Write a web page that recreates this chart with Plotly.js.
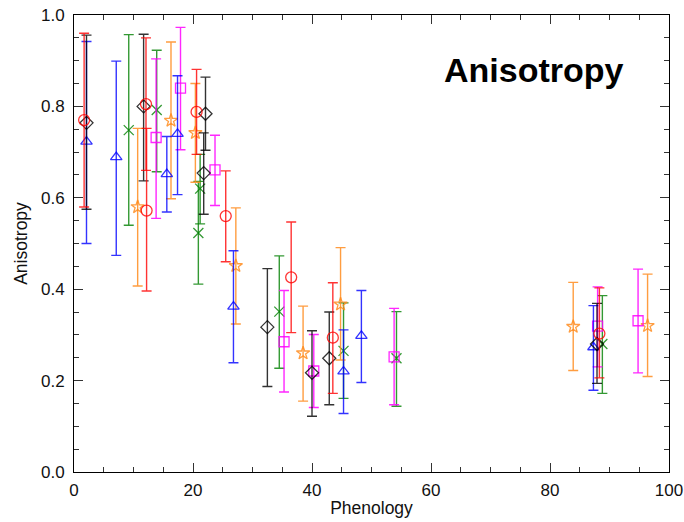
<!DOCTYPE html>
<html>
<head>
<meta charset="utf-8">
<script src="https://cdn.plot.ly/plotly-3.0.1.min.js"></script>
<style>html,body{margin:0;padding:0;background:#fff;}#chart{width:684px;height:522px;}</style>
</head>
<body>
<div id="chart"></div>
<script>
// Data: x = phenology, y = anisotropy, hi/lo = error bar ends
const redX = [1.7, 12.1, 12.2, 20.6, 25.5, 36.5, 43.5, 88.3];
const redY = [0.770, 0.805, 0.572, 0.788, 0.560, 0.426, 0.294, 0.303];
const redHi = [0.960, 0.950, 0.752, 0.881, 0.659, 0.547, 0.414, 0.403];
const redLo = [0.580, 0.660, 0.396, 0.695, 0.460, 0.305, 0.172, 0.206];

const blackX = [2.1, 11.7, 22.1, 21.8, 32.5, 40.0, 42.9, 87.9];
const blackY = [0.764, 0.800, 0.784, 0.654, 0.317, 0.217, 0.249, 0.280];
const blackHi = [0.956, 0.958, 0.864, 0.742, 0.445, 0.309, 0.350, 0.369];
const blackLo = [0.575, 0.637, 0.704, 0.564, 0.187, 0.122, 0.147, 0.194];

const blueX = [2.1, 7.1, 15.6, 17.4, 26.8, 45.3, 48.3, 87.3];
const blueY = [0.723, 0.689, 0.652, 0.740, 0.362, 0.220, 0.298, 0.273];
const blueHi = [0.942, 0.899, 0.734, 0.867, 0.484, 0.311, 0.397, 0.364];
const blueLo = [0.500, 0.474, 0.569, 0.607, 0.239, 0.128, 0.196, 0.179];

const greenX = [9.2, 13.9, 21.2, 20.9, 34.5, 45.3, 54.2, 88.8];
const greenY = [0.748, 0.792, 0.620, 0.523, 0.351, 0.265, 0.249, 0.280];
const greenHi = [0.957, 0.923, 0.695, 0.636, 0.473, 0.370, 0.351, 0.386];
const greenLo = [0.540, 0.657, 0.543, 0.411, 0.227, 0.161, 0.144, 0.172];

const orangeX = [10.7, 16.3, 20.4, 27.2, 38.5, 44.8, 83.9, 96.4];
const orangeY = [0.580, 0.769, 0.742, 0.451, 0.260, 0.367, 0.318, 0.320];
const orangeHi = [0.752, 0.941, 0.850, 0.578, 0.363, 0.491, 0.415, 0.433];
const orangeLo = [0.407, 0.598, 0.634, 0.324, 0.155, 0.245, 0.222, 0.209];

const magentaX = [13.8, 17.9, 23.7, 35.3, 40.3, 53.8, 88.0, 94.8];
const magentaY = [0.732, 0.840, 0.661, 0.285, 0.221, 0.252, 0.319, 0.331];
const magentaHi = [0.904, 0.973, 0.737, 0.397, 0.301, 0.358, 0.405, 0.444];
const magentaLo = [0.555, 0.705, 0.583, 0.175, 0.141, 0.147, 0.230, 0.217];

const xTickVals = [0, 20, 40, 60, 80, 100];
const yTickVals = [0.0, 0.2, 0.4, 0.6, 0.8, 1.0];

function series(x, y, hi, lo, color, symbol, size) {
  return {
    type: 'scatter', mode: 'markers', x: x, y: y,
    marker: {symbol: symbol, size: size, color: color,
             line: {color: color, width: 1.3}},
    error_y: {type: 'data', symmetric: false,
              array: hi.map((h, i) => h - y[i]),
              arrayminus: lo.map((l, i) => y[i] - l),
              color: color, thickness: 1.4, width: 5},
    showlegend: false, hoverinfo: 'x+y'
  };
}

const traces = [
  series(greenX, greenY, greenHi, greenLo, 'rgba(0,128,0,0.8)', 'x-thin-open', 10),
  series(orangeX, orangeY, orangeHi, orangeLo, 'rgba(255,140,30,0.85)', 'star-open', 10),
  series(magentaX, magentaY, magentaHi, magentaLo, 'rgba(255,0,255,0.85)', 'square-open', 10),
  series(blueX, blueY, blueHi, blueLo, 'rgba(0,0,255,0.8)', 'triangle-up-open', 10),
  series(blackX, blackY, blackHi, blackLo, 'rgba(0,0,0,0.8)', 'diamond-open', 10),
  series(redX, redY, redHi, redLo, 'rgba(255,0,0,0.8)', 'circle-open', 11)
];

const axisCommon = {
  showgrid: false, zeroline: false, showline: true, linecolor: '#000', linewidth: 1,
  mirror: 'ticks', ticks: 'inside', ticklen: 9, tickwidth: 1, tickcolor: '#333',
  tickfont: {family: 'Liberation Sans, Arial, sans-serif', size: 17, color: '#111'}
};

const layout = {
  width: 684, height: 522,
  margin: {l: 74, r: 15, t: 15, b: 50},
  paper_bgcolor: '#fff', plot_bgcolor: '#fff',
  xaxis: Object.assign({}, axisCommon, {
    range: [0, 100], tickvals: xTickVals, ticklabelstandoff: 3,
    minor: {dtick: 5, ticks: 'inside', ticklen: 5, tickcolor: '#333'},
    title: {text: 'Phenology', standoff: 2,
            font: {family: 'Liberation Sans, Arial, sans-serif', size: 17.5, color: '#111'}}
  }),
  yaxis: Object.assign({}, axisCommon, {
    range: [0, 1.0], tickvals: yTickVals, tickformat: '.1f', ticklabelstandoff: 5,
    minor: {dtick: 0.05, ticks: 'inside', ticklen: 5, tickcolor: '#333'},
    title: {text: 'Anisotropy', standoff: 8,
            font: {family: 'Liberation Sans, Arial, sans-serif', size: 17.5, color: '#111'}}
  }),
  annotations: [{
    text: '<b>Anisotropy</b>', xref: 'paper', yref: 'paper',
    x: 0.773, y: 0.88, xanchor: 'center', yanchor: 'middle', showarrow: false,
    font: {family: 'Liberation Sans, Arial, sans-serif', size: 34, color: '#000'}
  }]
};

Plotly.newPlot('chart', traces, layout, {displayModeBar: false, staticPlot: true});
</script>
</body>
</html>
